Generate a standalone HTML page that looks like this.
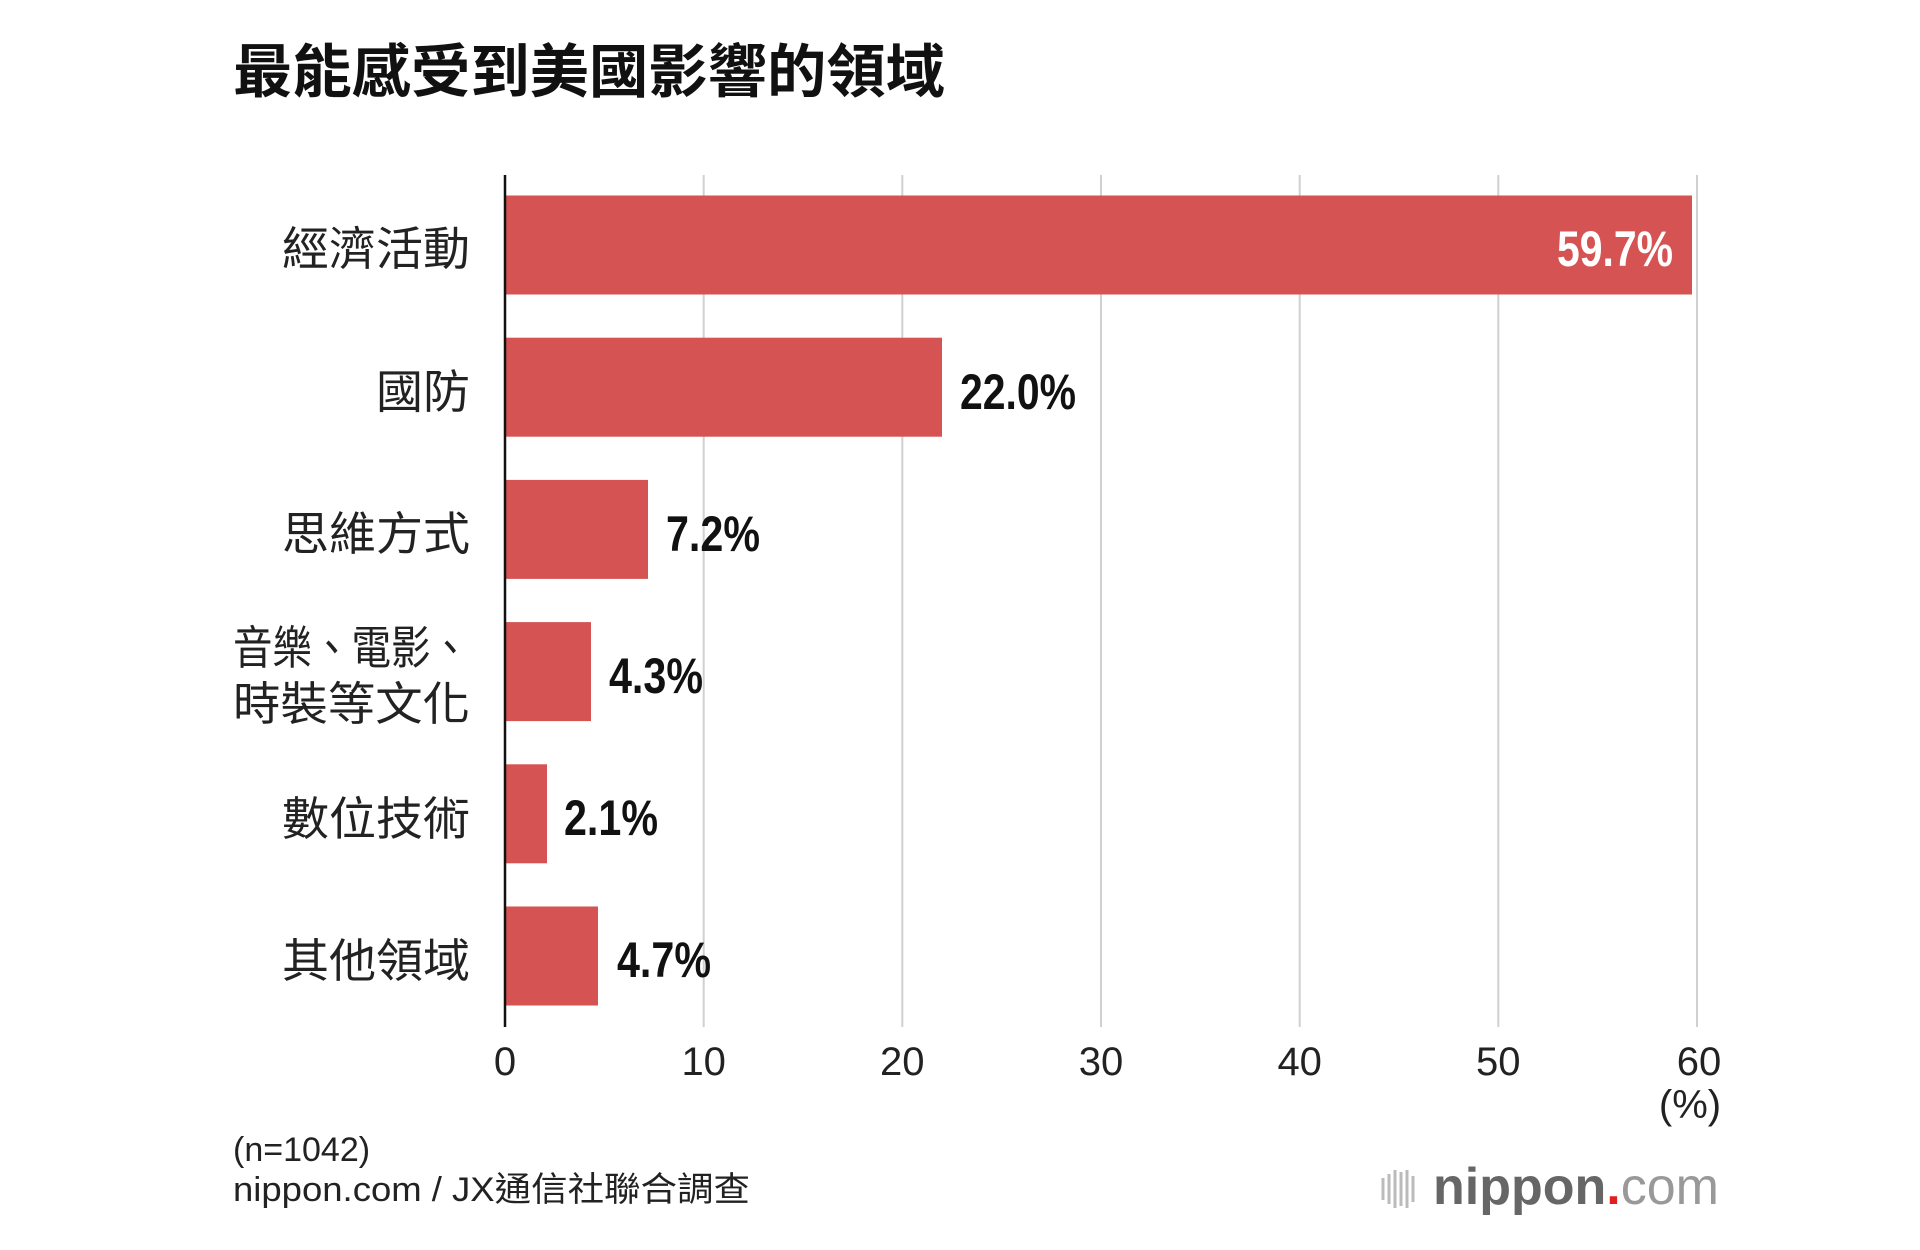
<!DOCTYPE html>
<html><head><meta charset="utf-8"><style>
html,body{margin:0;padding:0;background:#fff;}
svg{display:block;}
.cjk{font-family:"Liberation Sans","Noto Sans CJK TC",sans-serif;}
</style></head><body>
<svg width="1920" height="1250" viewBox="0 0 1920 1250" xmlns="http://www.w3.org/2000/svg">
<rect width="1920" height="1250" fill="#fff"/>
<text x="233" y="92" class="cjk" font-size="58" font-weight="bold" fill="#111" textLength="712" lengthAdjust="spacingAndGlyphs">最能感受到美國影響的領域</text>
<g stroke="#d0d0d0" stroke-width="2">
<line x1="703.7" y1="175" x2="703.7" y2="1027"/>
<line x1="902.3" y1="175" x2="902.3" y2="1027"/>
<line x1="1101" y1="175" x2="1101" y2="1027"/>
<line x1="1299.7" y1="175" x2="1299.7" y2="1027"/>
<line x1="1498.3" y1="175" x2="1498.3" y2="1027"/>
<line x1="1697" y1="175" x2="1697" y2="1027"/>
</g>
<g fill="#d55353">
<rect x="505" y="195.5" width="1187" height="99"/>
<rect x="505" y="337.7" width="437" height="99"/>
<rect x="505" y="479.9" width="143" height="99"/>
<rect x="505" y="622.1" width="86" height="99"/>
<rect x="505" y="764.3" width="42" height="99"/>
<rect x="505" y="906.5" width="93" height="99"/>
</g>
<line x1="505" y1="175" x2="505" y2="1027" stroke="#111" stroke-width="2.5"/>
<g class="cjk" font-size="46" fill="#222" text-anchor="end">
<text x="470" y="265" textLength="188" lengthAdjust="spacingAndGlyphs">經濟活動</text>
<text x="470" y="408" textLength="94" lengthAdjust="spacingAndGlyphs">國防</text>
<text x="470" y="550" textLength="188" lengthAdjust="spacingAndGlyphs">思維方式</text>
<text x="470" y="664" textLength="237" lengthAdjust="spacingAndGlyphs">音樂、電影、</text>
<text x="470" y="720" textLength="237" lengthAdjust="spacingAndGlyphs">時裝等文化</text>
<text x="470" y="835" textLength="188" lengthAdjust="spacingAndGlyphs">數位技術</text>
<text x="470" y="977" textLength="188" lengthAdjust="spacingAndGlyphs">其他領域</text>
</g>
<g font-family="'Liberation Sans Narrow','Liberation Sans',sans-serif" font-weight="bold" font-size="50" fill="#111">
<text x="1557" y="266" fill="#fff" textLength="116" lengthAdjust="spacingAndGlyphs">59.7%</text>
<text x="960" y="409" textLength="116" lengthAdjust="spacingAndGlyphs">22.0%</text>
<text x="666" y="551" textLength="94" lengthAdjust="spacingAndGlyphs">7.2%</text>
<text x="609" y="693" textLength="94" lengthAdjust="spacingAndGlyphs">4.3%</text>
<text x="564" y="835" textLength="94" lengthAdjust="spacingAndGlyphs">2.1%</text>
<text x="617" y="977" textLength="94" lengthAdjust="spacingAndGlyphs">4.7%</text>
</g>
<g font-family="'Liberation Sans Narrow','Liberation Sans',sans-serif" font-size="40" fill="#222" text-anchor="middle">
<text x="505" y="1075">0</text>
<text x="703.7" y="1075">10</text>
<text x="902.3" y="1075">20</text>
<text x="1101" y="1075">30</text>
<text x="1299.7" y="1075">40</text>
<text x="1498.3" y="1075">50</text>
<text x="1699" y="1075">60</text>
<text x="1690" y="1118">(%)</text>
</g>
<text x="233" y="1161" class="cjk" font-size="34" fill="#222">(n=1042)</text>
<text x="233" y="1201" class="cjk" font-size="34" fill="#222" textLength="517" lengthAdjust="spacingAndGlyphs">nippon.com / JX通信社聯合調查</text>
<g stroke="#bbb" stroke-width="3">
<line x1="1383" y1="1178" x2="1383" y2="1200"/>
<line x1="1389" y1="1174" x2="1389" y2="1204"/>
<line x1="1395" y1="1170" x2="1395" y2="1208"/>
<line x1="1401" y1="1172" x2="1401" y2="1206"/>
<line x1="1407" y1="1170" x2="1407" y2="1208"/>
<line x1="1413" y1="1176" x2="1413" y2="1202"/>
</g>
<text x="1433" y="1204" font-family="'Liberation Sans',sans-serif" font-size="52" fill="#666" textLength="286" lengthAdjust="spacingAndGlyphs"><tspan font-weight="bold">nippon</tspan><tspan fill="#e02020" font-weight="bold">.</tspan><tspan fill="#999">com</tspan></text>
</svg>
</body></html>
